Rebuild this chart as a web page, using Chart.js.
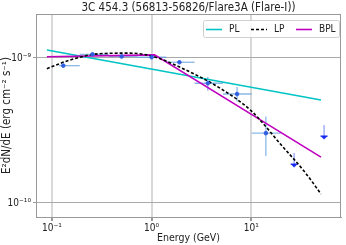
<!DOCTYPE html>
<html>
<head>
<meta charset="utf-8">
<script src="https://cdn.jsdelivr.net/npm/chart.js@4.4.1/dist/chart.umd.min.js"></script>
<style>
html,body{margin:0;padding:0;background:#fff;}
</style>
</head>
<body>
<canvas id="myChart" width="346" height="245"></canvas>
<script>
// model curves (E in GeV, E^2 dN/dE in erg cm^-2 s^-1)
var plE = [0.089, 50];
var plFlux = [1.135e-9, 5.13e-10];
var lpE = [0.089, 0.15, 0.3, 0.6, 1.0, 2.0, 5.0, 10, 20, 35, 50];
var lpFlux = [8.44e-10, 9.65e-10, 1.07e-9, 1.08e-9, 1.03e-9, 8.53e-10, 6.11e-10, 4.31e-10, 2.51e-10, 1.61e-10, 1.153e-10];
var bplE = [0.089, 1.07, 50];
var bplFlux = [1.02e-9, 1.05e-9, 2.07e-10];

// SED points with errors
var sedE = [0.13, 0.255, 0.5, 1.0, 1.9, 3.66, 7.2, 14];
var sedFlux = [8.85e-10, 1.06e-9, 1.024e-9, 1.011e-9, 9.34e-10, 6.69e-10, 5.64e-10, 3.03e-10];
var sedElo = [0.118, 0.19, 0.37, 0.72, 1.4, 2.7, 5.2, 10.1];
var sedEhi = [0.19, 0.37, 0.72, 1.4, 2.7, 5.2, 10.1, 19.7];
var sedFluxLo = [8.85e-10, 1.04e-9, 1.024e-9, 1.0e-9, 9.34e-10, 5.95e-10, 4.98e-10, 2.11e-10];
var sedFluxHi = [8.85e-10, 1.08e-9, 1.024e-9, 1.02e-9, 9.34e-10, 7.39e-10, 6.31e-10, 3.94e-10];

// upper limits
var ulE = [26.9, 53.7];
var ulFlux = [2.21e-10, 3.45e-10];

var xTicks = [0.1, 1, 10];
var yTicks = [1e-10, 1e-9];

var FONT = "'Liberation Sans Narrow', 'DejaVu Sans Condensed', 'DejaVu Sans', sans-serif";

function sup(n){
	var m = {'-':'\u207b','0':'\u2070','1':'\u00b9','2':'\u00b2','3':'\u00b3','4':'\u2074','5':'\u2075','6':'\u2076','7':'\u2077','8':'\u2078','9':'\u2079'};
	return String(n).split('').map(function(c){ return m[c]; }).join('');
}
function decadeLabel(v){
	return '10' + sup(Math.round(Math.log10(v)));
}
function pts(xs, ys){
	return xs.map(function(x, i){ return {x: x, y: ys[i]}; });
}

var errorBars = {
	id: 'errorBars',
	beforeDatasetsDraw: function(chart){
		var ctx = chart.ctx, xs = chart.scales.x, ys = chart.scales.y;
		ctx.save();
		ctx.strokeStyle = 'rgba(100,160,225,0.75)';
		ctx.lineWidth = 1.3;
		for (var i = 0; i < sedE.length; i++) {
			var px = xs.getPixelForValue(sedE[i]);
			var py = ys.getPixelForValue(sedFlux[i]);
			ctx.beginPath();
			ctx.moveTo(xs.getPixelForValue(sedElo[i]), py);
			ctx.lineTo(xs.getPixelForValue(sedEhi[i]), py);
			ctx.moveTo(px, ys.getPixelForValue(sedFluxHi[i]));
			ctx.lineTo(px, ys.getPixelForValue(sedFluxLo[i]));
			ctx.stroke();
		}
		// upper limit arrows
		ctx.strokeStyle = 'rgba(70,100,240,0.7)';
		ctx.lineWidth = 1.1;
		ctx.fillStyle = '#1a2cf0';
		for (var j = 0; j < ulE.length; j++) {
			var ux = xs.getPixelForValue(ulE[j]);
			var uy = ys.getPixelForValue(ulFlux[j]);
			ctx.beginPath();
			ctx.moveTo(ux, uy);
			ctx.lineTo(ux, uy + 13);
			ctx.stroke();
			ctx.beginPath();
			ctx.moveTo(ux - 3.5, uy + 11);
			ctx.lineTo(ux + 3.5, uy + 11);
			ctx.lineTo(ux, uy + 14.5);
			ctx.closePath();
			ctx.fill();
			ctx.fillRect(ux - 3.5, uy + 10.5, 7, 1.2);
		}
		ctx.restore();
	},
	afterDraw: function(chart){
		var ctx = chart.ctx, a = chart.chartArea;
		ctx.save();
		// frame
		ctx.strokeStyle = '#999';
		ctx.lineWidth = 1;
		ctx.strokeRect(a.left + 0.5, a.top + 0.5, a.right - a.left - 1, a.bottom - a.top);
		// title
		ctx.fillStyle = '#222';
		ctx.font = '11.5px ' + FONT;
		ctx.textAlign = 'center';
		ctx.textBaseline = 'middle';
		ctx.fillText('3C 454.3 (56813-56826/Flare3A (Flare-I))', (a.left + a.right) / 2, 8);
		// legend
		var lx = 203, ly = 20, lw = 136, lh = 17;
		ctx.fillStyle = 'rgba(255,255,255,0.85)';
		ctx.strokeStyle = '#d0d0d0';
		ctx.beginPath();
		ctx.roundRect(lx + 0.5, ly + 0.5, lw, lh, 2);
		ctx.fill();
		ctx.stroke();
		var items = [
			{t: 'PL', c: '#00c4c4', d: []},
			{t: 'LP', c: '#000', d: [3, 2]},
			{t: 'BPL', c: '#c000c0', d: []}
		];
		var cy = ly + lh / 2 + 1;
		ctx.textAlign = 'left';
		ctx.font = '10px ' + FONT;
		items.forEach(function(it, k){
			var x0 = lx + 3 + k * 45;
			ctx.strokeStyle = it.c;
			ctx.lineWidth = 1.6;
			ctx.setLineDash(it.d);
			ctx.beginPath();
			ctx.moveTo(x0, cy);
			ctx.lineTo(x0 + 16, cy);
			ctx.stroke();
			ctx.setLineDash([]);
			ctx.fillStyle = '#222';
			ctx.fillText(it.t, x0 + 23, cy);
		});
		ctx.restore();
	}
};

var ctx = document.getElementById('myChart').getContext('2d');
var myChart = new Chart(ctx, {
	type: 'scatter',
	data: {
		datasets: [{
			label: 'data',
			data: pts(sedE, sedFlux),
			backgroundColor: '#2f5fe0',
			borderColor: '#2f5fe0',
			pointRadius: 1.8,
			order: 1
		}, {
			label: 'PL',
			data: pts(plE, plFlux),
			showLine: true,
			borderColor: '#00c4c4',
			borderWidth: 1.6,
			pointRadius: 0,
			order: 4
		}, {
			label: 'LP',
			data: pts(lpE, lpFlux),
			showLine: true,
			borderColor: '#000',
			borderWidth: 1.6,
			borderDash: [3, 2],
			cubicInterpolationMode: 'monotone',
			pointRadius: 0,
			order: 2
		}, {
			label: 'BPL',
			data: pts(bplE, bplFlux),
			showLine: true,
			borderColor: '#c000c0',
			borderWidth: 1.6,
			pointRadius: 0,
			order: 3
		}]
	},
	options: {
		responsive: false,
		animation: false,
		layout: {padding: {top: 14, right: 4, left: 0, bottom: 0}},
		plugins: {
			legend: {display: false},
			tooltip: {enabled: false}
		},
		scales: {
			x: {
				type: 'logarithmic',
				min: 0.0692,
				max: 79.4,
				afterBuildTicks: function(s){ s.ticks = xTicks.map(function(v){ return {value: v}; }); },
				afterFit: function(s){ s.height = 28; },
				ticks: {
					callback: function(v){ return decadeLabel(v); },
					color: '#222',
					font: {size: 10, family: FONT},
					padding: 1,
					maxRotation: 0
				},
				grid: {color: '#d8d8d8', lineWidth: 2, tickColor: '#999', tickLength: 4},
				border: {color: '#999'},
				title: {display: true, text: 'Energy (GeV)', color: '#222', font: {size: 10.5, family: FONT}, padding: {top: 1, bottom: 0}}
			},
			y: {
				type: 'logarithmic',
				min: 8.0e-11,
				max: 2.01e-9,
				afterBuildTicks: function(s){ s.ticks = yTicks.map(function(v){ return {value: v}; }); },
				afterFit: function(s){ s.width = 36; },
				ticks: {
					callback: function(v){ return decadeLabel(v); },
					color: '#222',
					font: {size: 10, family: FONT},
					padding: 2
				},
				grid: {color: '#aaa', lineWidth: 1, tickColor: '#999', tickLength: 3},
				border: {color: '#999'},
				title: {display: true, text: 'E\u00b2dN/dE (erg cm\u207b\u00b2 s\u207b\u00b9)', color: '#222', font: {size: 11.5, family: FONT}, padding: 0}
			}
		}
	},
	plugins: [errorBars]
});
</script>
</body>
</html>
